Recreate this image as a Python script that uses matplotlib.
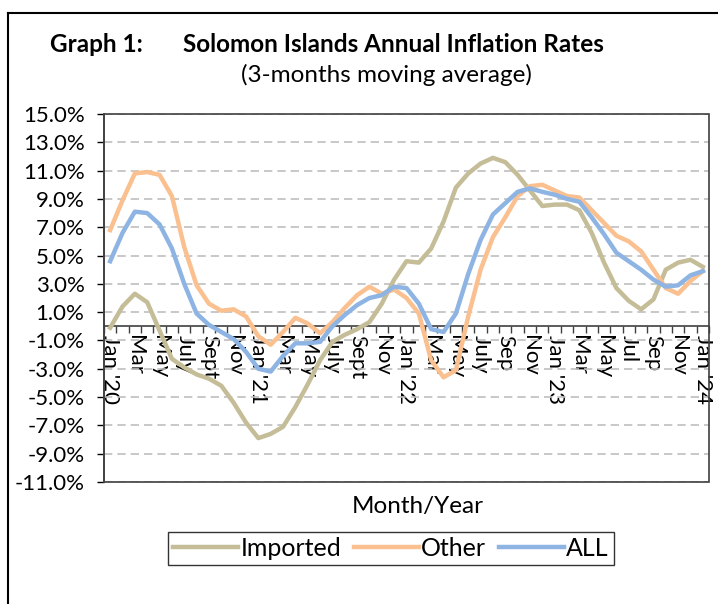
import matplotlib
matplotlib.use("Agg")

import matplotlib.pyplot as plt
from matplotlib.patches import Rectangle
from matplotlib.lines import Line2D

# =========================
# DATA (Jan 2020 - Jan 2024, monthly)
# =========================

imported = [
    -0.1, 1.4, 2.3, 1.7, -0.3, -2.3, -2.9, -3.4, -3.7, -4.2, -5.4, -6.8,
    -7.9, -7.6, -7.1, -5.7, -4.1, -2.4, -1.1, -0.6, -0.2, 0.3, 1.6, 3.3,
    4.6, 4.5, 5.5, 7.4, 9.8, 10.8, 11.5, 11.9, 11.6, 10.7, 9.6, 8.5,
    8.6, 8.6, 8.2, 6.6, 4.5, 2.7, 1.8, 1.2, 1.9, 4.0, 4.5, 4.7,
    4.2,
]

other = [
    6.8, 8.9, 10.8, 10.9, 10.7, 9.2, 5.6, 2.9, 1.6, 1.1, 1.2, 0.7,
    -0.7, -1.3, -0.4, 0.6, 0.2, -0.5, 0.3, 1.3, 2.2, 2.8, 2.3, 2.6,
    2.0, 0.9, -2.4, -3.6, -3.1, 0.7, 4.0, 6.3, 7.7, 9.2, 9.9, 10.0,
    9.6, 9.2, 9.1, 8.2, 7.3, 6.4, 6.0, 5.3, 4.0, 2.7, 2.3, 3.2,
    3.9,
]

all_items = [
    4.6, 6.6, 8.1, 8.0, 7.2, 5.5, 3.0, 0.9, 0.1, -0.4, -0.9, -1.8,
    -3.0, -3.2, -2.1, -1.2, -1.2, -1.1, 0.0, 0.8, 1.5, 2.0, 2.2, 2.8,
    2.7, 1.6, -0.2, -0.4, 0.9, 3.7, 6.1, 7.9, 8.7, 9.5, 9.75, 9.5,
    9.3, 9.0, 8.8, 7.7, 6.5, 5.2, 4.6, 4.0, 3.3, 2.8, 2.9, 3.6,
    3.9,
]

tick_labels = [
    "Jan '20", "Mar", "May", "July", "Sept", "Nov",
    "Jan '21", "Mar", "May", "July", "Sept", "Nov",
    "Jan '22", "Mar", "May", "July", "Sep", "Nov",
    "Jan '23", "Mar", "May", "Jul", "Sep", "Nov",
    "Jan '24",
]

y_ticks = list(range(-11, 16, 2))

# =========================
# STYLE
# =========================

plt.rcParams["font.family"] = ["Lato", "DejaVu Sans"]

c_imported = "#C4BD97"
c_other = "#FAC090"
c_all = "#8DB4E2"

fig = plt.figure(figsize=(7.18, 6.04), dpi=100)
W, H = 718, 604

ax = fig.add_axes([104 / W, 1 - 482 / H, 605 / W, 368 / H])

x = list(range(len(imported)))

ax.plot(x, imported, color=c_imported, lw=3.2, solid_joinstyle="round", zorder=3)
ax.plot(x, other, color=c_other, lw=3.2, solid_joinstyle="round", zorder=3)
ax.plot(x, all_items, color=c_all, lw=3.2, solid_joinstyle="round", zorder=4)

ax.set_xlim(-0.5, len(imported) - 0.5)
ax.set_ylim(-11, 15)

# y axis
ax.set_yticks(y_ticks)
ax.set_yticklabels([f"{v:.1f}%" for v in y_ticks], fontsize=16)
ax.tick_params(axis="y", direction="out", length=5, width=1, pad=9, colors="black")
ax.yaxis.grid(True, color="#BFBFBF", linestyle=(0, (5, 3)), linewidth=1.2)
ax.set_axisbelow(True)

# category axis crossing at zero
ax.spines["bottom"].set_position(("data", 0))
ax.spines["top"].set_visible(False)
ax.spines["right"].set_visible(False)
ax.spines["left"].set_color("#404040")
ax.spines["bottom"].set_color("#404040")
ax.spines["left"].set_linewidth(1.2)
ax.spines["bottom"].set_linewidth(1.2)

ax.set_xticks([i - 0.5 for i in range(len(imported) + 1)])
ax.set_xticklabels([])
ax.tick_params(axis="x", which="major", direction="out", length=5, width=1, colors="#404040")
ax.set_xticks(list(range(0, len(imported), 2)), minor=True)
ax.set_xticklabels(tick_labels, minor=True, rotation=270, fontsize=16,
                   ha="center", va="top")
ax.tick_params(axis="x", which="minor", length=0, pad=6, labelcolor="black")

# plot area frame
ax.add_patch(Rectangle((0, 0), 1, 1, transform=ax.transAxes, fill=False,
                       edgecolor="#404040", linewidth=1.2, clip_on=False, zorder=5))

# =========================
# TEXT
# =========================

fig.text(50 / W, 1 - 44 / H, "Graph 1:", fontsize=17.5, fontweight="bold",
         ha="left", va="center")
fig.text(183 / W, 1 - 44 / H, "Solomon Islands Annual Inflation Rates",
         fontsize=17.5, fontweight="bold", ha="left", va="center")
fig.text(386 / W, 1 - 75 / H, "(3-months moving average)", fontsize=17.5,
         ha="center", va="center")
fig.text(418 / W, 1 - 507 / H, "Month/Year", fontsize=17.5,
         ha="center", va="center")

handles = [
    Line2D([], [], color=c_imported, lw=3.2),
    Line2D([], [], color=c_other, lw=3.2),
    Line2D([], [], color=c_all, lw=3.2),
]
leg = fig.legend(handles, ["Imported", "Other", "ALL"], loc="center",
                 bbox_to_anchor=(391 / W, 1 - 548 / H), ncol=3, fontsize=18,
                 frameon=True, fancybox=False, edgecolor="black",
                 handlelength=2.6, handletextpad=0.1, columnspacing=0.5,
                 borderpad=0.2)
leg.get_frame().set_linewidth(1.0)

# outer chart border (cropped at right and bottom)
fig.add_artist(Line2D([8 / W, 1], [1 - 13 / H, 1 - 13 / H], color="black", lw=1.5))
fig.add_artist(Line2D([8 / W, 8 / W], [1 - 13 / H, 0], color="black", lw=1.5))

fig.savefig("out.png", dpi=100, facecolor="white")
